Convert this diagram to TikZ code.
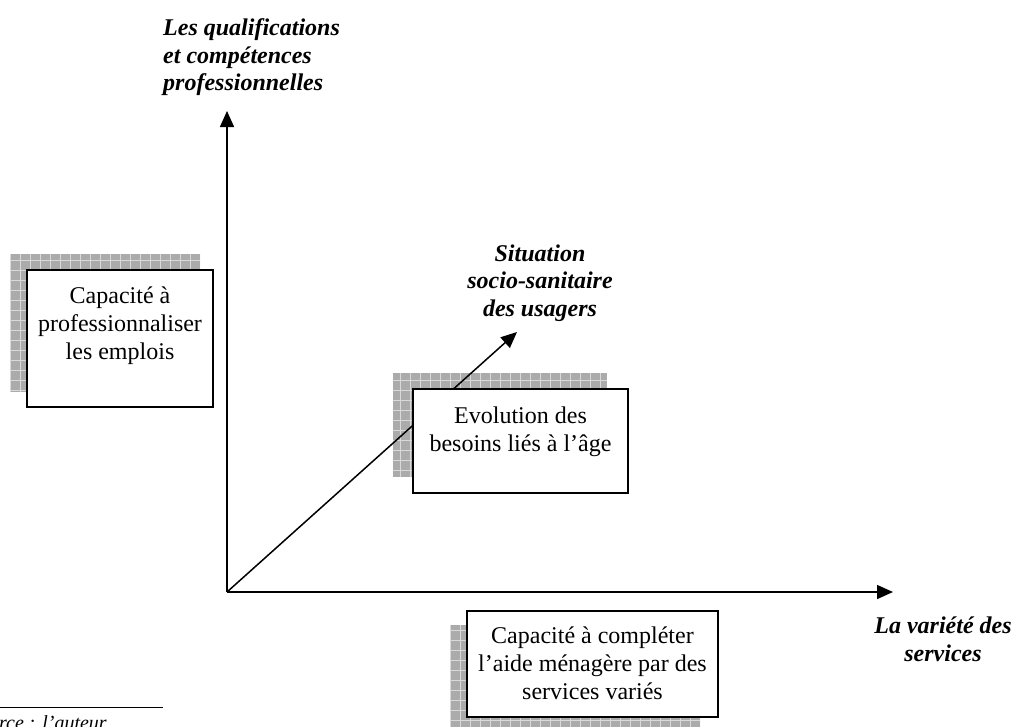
\documentclass[tikz,border=0pt]{standalone}
\usepackage{fontspec}
\setmainfont{Liberation Serif}
\usetikzlibrary{arrows.meta}
\newcommand\gridshadow[4]{%
  \fill[shadowfill] (#1,#2) rectangle (#3,#4);
  \begin{scope}
    \clip (#1,#2) rectangle (#3,#4);
    \draw[shadowgrid] (#1,#2) grid (#3,#4);
  \end{scope}}
\begin{document}
\begin{tikzpicture}[x=1pt,y=-1pt,
  axis/.style={line width=1.5pt,-{Triangle[length=16pt,width=14pt]}},
  shadowfill/.style={fill=black!33},
  shadowgrid/.style={draw=black!15,line width=0.8pt,step=10pt},
  boxnode/.style={draw=black,line width=1.5pt,fill=white,inner sep=0pt},
  boxtext/.style={inner sep=0pt,align=center,font=\fontsize{24}{28}\selectfont},
  axislabel/.style={inner sep=0pt,font=\fontsize{24}{27.5}\selectfont\bfseries\itshape},
  note/.style={inner sep=0pt,font=\fontsize{20}{24}\selectfont\itshape},
]
\useasboundingbox (0,0) rectangle (1017,726);

% shadows
\gridshadow{10}{254}{200}{392}
\gridshadow{393}{373}{607}{477}
\gridshadow{450}{625}{700}{735}

% axes
\coordinate (O) at (227,592);
\coordinate (ytip) at (227,111);
\coordinate (xtip) at (893,592);
\coordinate (dtip) at (517,332);
\draw[axis] (O) -- (ytip);
\draw[axis] (O) -- (xtip);
\draw[axis] (O) -- (dtip);

% boxes
\node[boxnode,minimum width=186pt,minimum height=137pt] (b1) at (120,338.5) {};
\node[boxtext,anchor=north] (t1) at (120,286.5) {Capacité à\\professionnaliser\\les emplois};

\node[boxnode,minimum width=215pt,minimum height=104pt] (b2) at (520.5,441) {};
\node[boxtext,anchor=north] (t2) at (520.5,406.6) {Evolution des\\besoins liés à l’âge};

\node[boxnode,minimum width=251pt,minimum height=106pt] (b3) at (592.5,664) {};
\node[boxtext,anchor=north] (t3) at (592.5,626.6) {Capacité à compléter\\l’aide ménagère par des\\services variés};

% axis labels
\node[axislabel,anchor=north west,align=left] (ly) at (163,18.5) {Les qualifications\\et compétences\\professionnelles};
\node[axislabel,anchor=north,align=center] (ld) at (540,244.5) {Situation\\socio-sanitaire\\des usagers};
\node[axislabel,anchor=north,align=center] (lx) at (943,617) {La variété des\\services};

% footnote
\coordinate (fa) at (0,707);
\coordinate (fb) at (163,707);
\draw[line width=1pt] (fa) -- (fb);
\node[note,anchor=base west] (src) at (-31,729) {Source : l’auteur};
\end{tikzpicture}
\end{document}
